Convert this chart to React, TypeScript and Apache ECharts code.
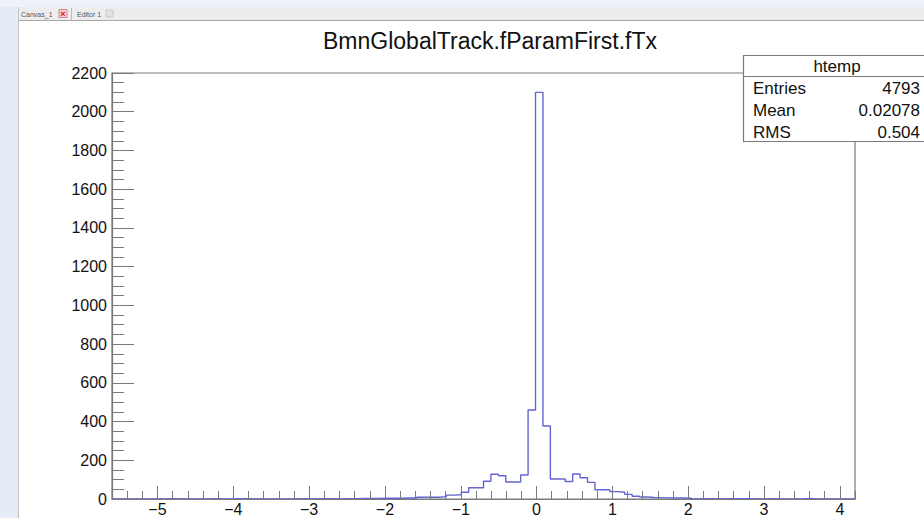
import React, { useEffect, useRef } from "react";
import * as echarts from "echarts";

const chartTitle = "BmnGlobalTrack.fParamFirst.fTx";
const xMin = -5.6;
const xMax = 4.2;
const binWidth = 0.098;
const binCounts = [
  0, 0, 0, 0, 0, 0, 0, 2, 0, 0,
  0, 0, 0, 2, 0, 0, 2, 2, 0, 0,
  0, 0, 0, 0, 0, 2, 0, 2, 2, 1,
  0, 2, 2, 3, 3, 3, 4, 4, 4, 5,
  5, 9, 9, 9, 12, 20, 22, 35, 58, 58,
  92, 128, 120, 88, 88, 124, 460, 2100, 377, 103,
  103, 90, 129, 110, 86, 48, 48, 38, 35, 24,
  14, 10, 8, 7, 6, 5, 5, 4, 0, 2,
  2, 0, 2, 2, 2, 2, 0, 0, 2, 0,
  0, 0, 0, 3, 0, 0, 0, 0, 0, 0,
];
const xTickValues = [-5, -4, -3, -2, -1, 0, 1, 2, 3, 4];
const xMinorStep = 0.2;
const yMin = 0;
const yMax = 2200;
const yInterval = 200;
const statsName = "htemp";
const statsLabels = ["Entries", "Mean", "RMS"];
const statsValues = ["4793", "0.02078", "0.504"];

const FONT = "'Liberation Sans', Arial, Helvetica, sans-serif";

export default function App() {
  const ref = useRef<HTMLDivElement>(null);
  useEffect(() => {
    document.body.style.margin = "0";
    if (!ref.current) return;
    const chart = echarts.init(ref.current, null, { renderer: "svg" });

    const points: number[][] = binCounts.map((v, i) => [xMin + i * binWidth, v]);
    points.push([xMin + binCounts.length * binWidth, binCounts[binCounts.length - 1]]);

    const statsRows: any[] = [];
    statsLabels.forEach((lab, i) => {
      const y = 88 + i * 22;
      statsRows.push({
        type: "text",
        style: { text: lab, x: 753, y, fontSize: 17, fontFamily: FONT, fill: "#111", textAlign: "left", textVerticalAlign: "middle" },
      });
      statsRows.push({
        type: "text",
        style: { text: statsValues[i], x: 920, y, fontSize: 17, fontFamily: FONT, fill: "#111", textAlign: "right", textVerticalAlign: "middle" },
      });
    });

    const option: any = {
      animation: false,
      backgroundColor: "#ffffff",
      title: {
        text: chartTitle,
        left: 485,
        top: 24,
        textAlign: "center",
        textStyle: { fontFamily: FONT, fontSize: 23, fontWeight: "normal", color: "#111" },
      },
      grid: {
        left: 112,
        top: 73,
        width: 743,
        height: 426,
        show: true,
        borderColor: "#7a7a7a",
        borderWidth: 1.2,
        backgroundColor: "transparent",
        containLabel: false,
        outerBoundsMode: "none",
      },
      xAxis: [
        {
          type: "value",
          min: xMin,
          max: xMax,
          position: "bottom",
          z: 5,
          splitLine: { show: false },
          axisLine: { show: true, onZero: false, lineStyle: { color: "#7a7a7a", width: 1.2 } },
          axisTick: { show: true, inside: true, length: 13, customValues: xTickValues, lineStyle: { color: "#7a7a7a", width: 1 } },
          axisLabel: {
            show: true,
            customValues: xTickValues,
            margin: 4,
            fontSize: 16,
            lineHeight: 13,
            fontFamily: FONT,
            color: "#111",
            formatter: (v: number) => (v < 0 ? "\u2212" + Math.abs(v) : String(v)),
          },
        },
        {
          type: "value",
          min: xMin,
          max: xMax,
          interval: xMinorStep,
          position: "bottom",
          z: 5,
          splitLine: { show: false },
          axisLine: { show: false, onZero: false },
          axisTick: { show: true, inside: true, length: 8, lineStyle: { color: "#7a7a7a", width: 1 } },
          axisLabel: { show: false },
        },
      ],
      yAxis: {
        type: "value",
        min: yMin,
        max: yMax,
        interval: yInterval,
        z: 5,
        splitLine: { show: false },
        axisLine: { show: true, onZero: false, lineStyle: { color: "#7a7a7a", width: 1.2 } },
        axisTick: { show: true, inside: true, length: 22, lineStyle: { color: "#7a7a7a", width: 1 } },
        minorTick: { show: true, splitNumber: 4, length: 12, lineStyle: { color: "#7a7a7a", width: 1 } },
        axisLabel: { margin: 5, fontSize: 16, fontFamily: FONT, color: "#111", formatter: (v: number) => String(v) },
      },
      series: [
        {
          type: "line",
          xAxisIndex: 0,
          data: points,
          step: "end",
          symbol: "none",
          z: 2,
          lineStyle: { color: "#6464d2", width: 1.4 },
        },
      ],
      graphic: [
        { type: "rect", z: 50, shape: { x: 0, y: 0, width: 18, height: 518 }, style: { fill: "#e6ecf7" } },
        { type: "rect", z: 50, shape: { x: 0, y: 0, width: 924, height: 7 }, style: { fill: "#eef2fa" } },
        { type: "rect", z: 50, shape: { x: 18, y: 7, width: 906, height: 13 }, style: { fill: "#ededed" } },
        { type: "line", z: 51, shape: { x1: 18, y1: 20.5, x2: 924, y2: 20.5 }, style: { stroke: "#a8a8a8", lineWidth: 1 } },
        { type: "line", z: 51, shape: { x1: 18.5, y1: 7, x2: 18.5, y2: 518 }, style: { stroke: "#c4c4c4", lineWidth: 1 } },
        { type: "text", z: 52, style: { text: "Canvas_1", x: 21, y: 14, fontSize: 7, fontFamily: FONT, fill: "#555", textVerticalAlign: "middle" } },
        { type: "rect", z: 52, shape: { x: 59, y: 9.5, width: 8, height: 8 }, style: { fill: "#f3d0d0", stroke: "#b55", lineWidth: 0.6 } },
        { type: "text", z: 53, style: { text: "×", x: 63, y: 13.5, fontSize: 9, fontWeight: "bold", fontFamily: FONT, fill: "#d11", textAlign: "center", textVerticalAlign: "middle" } },
        { type: "line", z: 52, shape: { x1: 71.5, y1: 8, x2: 71.5, y2: 20 }, style: { stroke: "#bbb", lineWidth: 1 } },
        { type: "text", z: 52, style: { text: "Editor 1", x: 77, y: 14, fontSize: 7, fontFamily: FONT, fill: "#555", textVerticalAlign: "middle" } },
        { type: "rect", z: 52, shape: { x: 106, y: 10, width: 7, height: 7 }, style: { fill: "#e2e2e2", stroke: "#bbb", lineWidth: 0.6 } },
        {
          type: "group",
          z: 100,
          children: [
            { type: "rect", z: 100, shape: { x: 743.5, y: 55.5, width: 200, height: 86 }, style: { fill: "#ffffff", stroke: "#7a7a7a", lineWidth: 1.2 } },
            { type: "line", z: 101, shape: { x1: 743.5, y1: 76.5, x2: 924, y2: 76.5 }, style: { stroke: "#7a7a7a", lineWidth: 1.2 } },
            { type: "text", z: 101, style: { text: statsName, x: 837, y: 66, fontSize: 17, fontFamily: FONT, fill: "#111", textAlign: "center", textVerticalAlign: "middle" } },
            ...statsRows.map((r) => ({ ...r, z: 101 })),
          ],
        },
      ],
    };
    chart.setOption(option);
    return () => chart.dispose();
  }, []);
  return <div ref={ref} style={{ position: "absolute", left: 0, top: 0, width: 924, height: 518 }} />;
}
